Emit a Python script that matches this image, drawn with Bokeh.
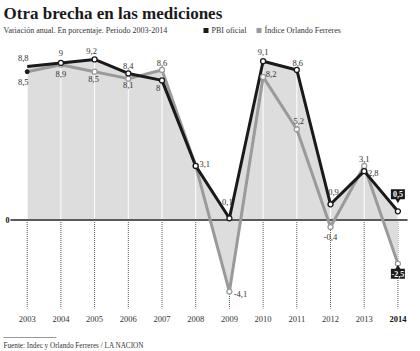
from bokeh.plotting import figure
from bokeh.models import Label, BoxAnnotation
from bokeh.core.properties import value
from bokeh.embed import file_html
from bokeh.resources import INLINE

years = [2003, 2004, 2005, 2006, 2007, 2008, 2009, 2010, 2011, 2012, 2013, 2014]
pbi_oficial = [8.8, 9.0, 9.2, 8.4, 8.0, 3.1, 0.1, 9.1, 8.6, 0.9, 2.8, 0.5]
ferreres = [8.5, 8.9, 8.5, 8.1, 8.6, 3.1, -4.1, 8.2, 5.2, -0.4, 3.1, -2.5]
year_labels = [str(y) for y in years]

title = "Otra brecha en las mediciones"
subtitle = "Variación anual. En porcentaje. Periodo 2003-2014"
legend_names = ["PBI oficial", "Índice Orlando Ferreres"]
source_text = "Fuente:  Indec y Orlando Ferreres / LA NACION"

W, H = 420, 351
PX_YEAR = 33.7
PX_UNIT = 17.45
X0_PX, Y0_PX = 26.7, 219.5

FONT = "Liberation Serif"
DARK = "#1a1a1a"
GREY = "#9a9a9a"
FILL = "#dddddd"
TXT = "#333333"


def fmt(v):
    s = ("%.1f" % v).rstrip("0").rstrip(".")
    return s.replace(".", ",")


x_start = years[0] - X0_PX / PX_YEAR
x_end = x_start + W / PX_YEAR
y_end = Y0_PX / PX_UNIT
y_start = -(H - Y0_PX) / PX_UNIT

p = figure(width=W, height=H, x_range=(x_start, x_end), y_range=(y_start, y_end),
           output_backend="svg", toolbar_location=None, min_border=0)
p.axis.visible = False
p.grid.visible = False
p.outline_line_color = None
p.background_fill_color = "white"
p.border_fill_color = "white"

bottom_val = -(308 - Y0_PX) / PX_UNIT
top_val = y_end
n = len(years)

# dotted ticks below zero
p.segment(x0=years, y0=[0] * n, x1=years, y1=[bottom_val] * n,
          line_color="#555555", line_width=1, line_dash="1 1")

# fills
p.varea(x=years, y1=[0] * n, y2=pbi_oficial, fill_color=FILL)
p.varea(x=years, y1=[0] * n, y2=ferreres, fill_color=FILL)

# white grid lines above zero
p.segment(x0=years, y0=[0] * n, x1=years, y1=[top_val] * n,
          line_color="white", line_width=1)

# zero line
p.segment(x0=[x_start + 10 / PX_YEAR], y0=[0], x1=[x_start + 407 / PX_YEAR], y1=[0],
          line_color="#5a5a5a", line_width=2)

# series lines
p.line(years, ferreres, line_color=GREY, line_width=3)
p.line(years, pbi_oficial, line_color=DARK, line_width=3)

# markers
p.scatter(years[:1], ferreres[:1], size=4, fill_color=DARK, line_color=DARK)
p.scatter(years[1:], ferreres[1:], size=5, fill_color="white", line_color=GREY, line_width=1.3)
p.scatter(years[1:], pbi_oficial[1:], size=5, fill_color="white", line_color=DARK, line_width=1.3)

# value labels (offsets in pixels)
pbi_off = [(-4, -8), (0, -10), (-3, -8), (0, -7), (-4, 8), (9, -2), (-2, -16),
           (0, -9), (1, -7), (3, -12), (9, 2), None]
fer_off = [(-4, 10), (0, 9), (-1, 7), (0, 6), (0, -7), None, (11, 2),
           (8, -3), (2, -8), (0, 10), (0, -7), None]

for series, offs in ((pbi_oficial, pbi_off), (ferreres, fer_off)):
    for yr, v, o in zip(years, series, offs):
        if o is None:
            continue
        p.add_layout(Label(x=yr, y=v, x_offset=o[0], y_offset=-o[1], text=fmt(v),
                           text_font=FONT, text_font_size="8.5px", text_color=TXT,
                           text_align="center", text_baseline="middle"))

# highlighted 2014 boxes
bx = [years[-1], years[-1]]
by = [pbi_oficial[-1] + 17 / PX_UNIT, ferreres[-1] - 10 / PX_UNIT]
p.rect(x=bx, y=by, width=14, height=10, width_units="screen", height_units="screen",
       fill_color=DARK, line_color=None)
p.scatter(x=[years[-1]], y=[pbi_oficial[-1] + 11 / PX_UNIT], marker="inverted_triangle",
          size=5, fill_color=DARK, line_color=None)
p.scatter(x=[years[-1]], y=[ferreres[-1] - 4 / PX_UNIT], marker="triangle",
          size=5, fill_color=DARK, line_color=None)
p.text(x=bx, y=by, text=[fmt(pbi_oficial[-1]), fmt(ferreres[-1])], text_font=value(FONT),
       text_font_size="8px", text_font_style="bold", text_color=value("white"),
       text_align="center", text_baseline="middle")

# year labels
ylab_val = -(318 - Y0_PX) / PX_UNIT
p.text(x=years[:-1], y=[ylab_val] * (n - 1), text=year_labels[:-1],
       text_font=value(FONT), text_font_size="8.5px", text_color=value(TXT),
       text_align="center", text_baseline="middle")
p.text(x=years[-1:], y=[ylab_val], text=year_labels[-1:], text_font=value(FONT),
       text_font_size="8.5px", text_font_style="bold", text_color=value("#111111"),
       text_align="center", text_baseline="middle")

# zero label
p.add_layout(Label(x=7, y=H - Y0_PX, x_units="screen", y_units="screen", text="0",
                   text_font=FONT, text_font_size="8px", text_font_style="bold",
                   text_color="#111111", text_align="center", text_baseline="middle"))

# title & subtitle
p.add_layout(Label(x=3, y=H - 13, x_units="screen", y_units="screen", text=title,
                   text_font=FONT, text_font_size="17px", text_font_style="bold",
                   text_color="#1a1a1a", text_align="left", text_baseline="middle"))
p.add_layout(Label(x=3, y=H - 30, x_units="screen", y_units="screen", text=subtitle,
                   text_font=FONT, text_font_size="8px", text_color=TXT,
                   text_align="left", text_baseline="middle"))

# legend
p.add_layout(BoxAnnotation(left=203, right=208, bottom=H - 32.5, top=H - 27.5,
                           left_units="screen", right_units="screen",
                           bottom_units="screen", top_units="screen",
                           fill_color=DARK, fill_alpha=1, line_color=None))
p.add_layout(Label(x=211, y=H - 30, x_units="screen", y_units="screen", text=legend_names[0],
                   text_font=FONT, text_font_size="8px", text_color=TXT,
                   text_align="left", text_baseline="middle"))
p.add_layout(BoxAnnotation(left=256, right=261, bottom=H - 32.5, top=H - 27.5,
                           left_units="screen", right_units="screen",
                           bottom_units="screen", top_units="screen",
                           fill_color=GREY, fill_alpha=1, line_color=None))
p.add_layout(Label(x=264, y=H - 30, x_units="screen", y_units="screen", text=legend_names[1],
                   text_font=FONT, text_font_size="8px", text_color=TXT,
                   text_align="left", text_baseline="middle"))

# footer
p.add_layout(BoxAnnotation(left=3, right=56, bottom=H - 337.5, top=H - 336.5,
                           left_units="screen", right_units="screen",
                           bottom_units="screen", top_units="screen",
                           fill_color="#999999", fill_alpha=1, line_color=None))
p.add_layout(Label(x=3, y=H - 345.5, x_units="screen", y_units="screen", text=source_text,
                   text_font=FONT, text_font_size="7.2px", text_color=TXT,
                   text_align="left", text_baseline="middle"))

open("out.html", "w").write(file_html(p, INLINE))
